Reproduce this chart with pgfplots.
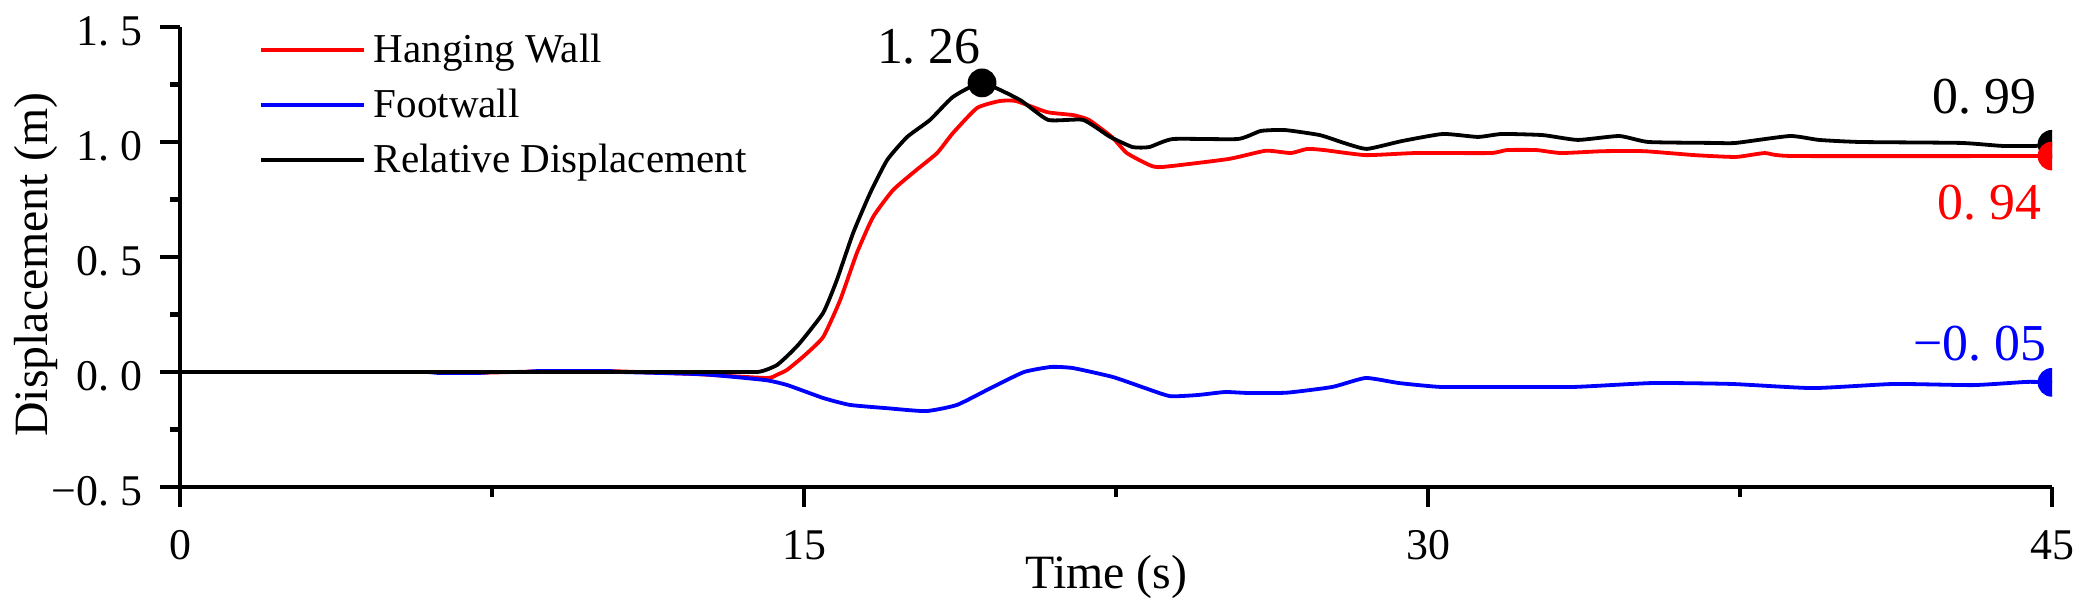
\documentclass[border=0pt]{standalone}
\usepackage{pgfplots}
\pgfplotsset{compat=1.18}
\usepackage{fontspec}
\setmainfont{Liberation Serif}
\newcommand{\dd}{\kern0.25em}
\newcommand{\lstrut}{\rule[-0.22em]{0pt}{0.97em}}
\begin{document}
\begin{tikzpicture}
\begin{axis}[
  scale only axis,
  width=468bp, height=115bp,
  xmin=0, xmax=45, ymin=-0.5, ymax=1.5,
  axis x line=bottom, axis y line=left,
  axis line style={-, line width=1.2bp, black},
  tick align=outside,
  major tick length=5bp, minor tick length=2.5bp,
  tick style={line width=1.1bp, black},
  xtick={0,15,30,45}, xticklabels={0,15,30,45},
  minor xtick={7.5,22.5,37.5},
  ytick={-0.5,0,0.5,1,1.5},
  yticklabels={−0.\dd5,0.\dd0,0.\dd5,1.\dd0,1.\dd5},
  minor ytick={-0.25,0.25,0.75,1.25},
  ticklabel style={font=\fontsize{11}{13}\selectfont, inner sep=0pt},
  xticklabel shift=5.75bp,
  yticklabel shift=4.25bp,
  yticklabel style={yshift=-1bp},
  xlabel={Time (s)},
  ylabel={Displacement (m)},
  label style={font=\fontsize{12}{14}\selectfont},
  xlabel style={at={(rel axis cs:0.495,0)}, anchor=base, yshift=-25.25bp},
  ylabel style={at={(rel axis cs:0,0.483)}, anchor=center, yshift=36bp},
  clip marker paths=true,
  legend style={draw=none, fill=none, at={(0,1)}, anchor=north west,
    xshift=19.75bp, yshift=0.75bp, inner sep=0pt, outer sep=0pt,
    font=\fontsize{10.3}{12}\selectfont, row sep=0.55bp,
    cells={inner sep=0pt, anchor=west},
    /tikz/every even column/.append style={column sep=3.25bp}},
  legend cell align=left,
  legend image code/.code={\draw[#1] (0bp,0bp) -- (25.75bp,0bp);},
]
\addplot[red, line width=0.95bp, smooth, tension=0.3] coordinates {
(0,0) (6,0) (7,-0.004) (8,0) (9,0.004) (10.3,0.004) (11,0) (12.5,-0.01)
(14.1,-0.026) (14.35,-0.012) (14.59,0.009) (15.0,0.07) (15.46,0.152) (15.87,0.313) (16.27,0.517)
(16.66,0.674) (17.14,0.791) (17.7,0.878) (18.2,0.952) (18.58,1.039) (19.16,1.148)
(19.7,1.178) (20.1,1.178) (20.84,1.13) (21.47,1.117) (21.85,1.096) (22.4,1.022)
(22.76,0.952) (23.3,0.9) (23.6,0.891) (25.2,0.926) (26.1,0.962) (26.7,0.952)
(27.1,0.97) (27.5,0.965) (28.5,0.943) (29.7,0.952) (31.5,0.952) (31.9,0.965)
(32.6,0.965) (33.2,0.952) (34.2,0.96) (35.2,0.96) (36.4,0.943) (37.4,0.935)
(38.1,0.952) (38.8,0.939) (45,0.939)
};
\addlegendentry{\lstrut Hanging Wall}
\addplot[blue, line width=0.95bp, smooth, tension=0.3] coordinates {
(0,0) (6,0) (6.2,-0.004) (7.2,-0.004) (7.5,0) (8.3,0) (8.6,0.004) (10.3,0.004)
(10.6,0) (12.57,-0.01) (14.06,-0.035) (14.6,-0.057) (15.46,-0.113) (16.1,-0.143)
(16.97,-0.157) (17.93,-0.17) (18.68,-0.143) (19.54,-0.065) (20.29,0.0) (20.94,0.022)
(21.47,0.017) (22.43,-0.022) (23.2,-0.07) (23.8,-0.105) (24.47,-0.1) (25.12,-0.087)
(25.65,-0.091) (26.6,-0.09) (27.7,-0.065) (28.5,-0.026) (29.3,-0.048) (30.3,-0.065)
(31.6,-0.065) (33.5,-0.065) (35.4,-0.048) (37.3,-0.052) (39.25,-0.07) (41.2,-0.052)
(43.1,-0.057) (44.4,-0.043) (45,-0.045)
};
\addlegendentry{\lstrut Footwall}
\addplot[black, line width=0.95bp, smooth, tension=0.3] coordinates {
(0,0) (6,0) (10,0) (13.0,0) (13.87,0.0) (14.1,0.01) (14.35,0.03) (14.6,0.07) (14.9,0.126) (15.46,0.257)
(15.79,0.40) (16.18,0.604) (16.59,0.778) (17.0,0.922) (17.48,1.022) (18.03,1.096)
(18.58,1.196) (19.28,1.257) (20.19,1.183) (20.87,1.096) (21.71,1.096) (22.36,1.022)
(22.9,0.978) (23.3,0.978) (23.87,1.013) (25.43,1.013) (25.98,1.048) (26.56,1.052)
(27.4,1.03) (27.98,0.996) (28.53,0.97) (29.37,1.004) (30.36,1.035) (31.2,1.022)
(31.78,1.035) (32.76,1.03) (33.6,1.009) (34.6,1.026) (35.3,1.0) (36.85,0.996)
(37.4,0.996) (38.7,1.026) (39.4,1.009) (40.4,1.0) (42.8,0.996) (43.8,0.983)
(44.6,0.983) (45,0.99)
};
\addlegendentry{\lstrut Relative Displacement}
\addplot[only marks, mark=*, black, mark size=3.4bp, forget plot] coordinates {(19.28,1.257) (45,0.99)};
\addplot[only marks, mark=*, red, mark size=3.4bp, forget plot] coordinates {(45,0.939)};
\addplot[only marks, mark=*, blue, mark size=3.4bp, forget plot] coordinates {(45,-0.045)};
\node[inner sep=0pt, font=\fontsize{13}{15}\selectfont, anchor=center] at (axis cs:18.0,1.413) {1.\dd26};
\node[inner sep=0pt, font=\fontsize{13}{15}\selectfont, anchor=east] at (axis cs:44.64,1.196) {0.\dd99};
\node[inner sep=0pt, font=\fontsize{13}{15}\selectfont, anchor=east, text=red] at (axis cs:44.76,0.735) {0.\dd94};
\node[inner sep=0pt, font=\fontsize{13}{15}\selectfont, anchor=east, text=blue] at (axis cs:44.88,0.122) {−0.\dd05};
\end{axis}
\pgfresetboundingbox
\path[use as bounding box] (-45bp,-31.25bp) rectangle (475.25bp,121.75bp);
\end{tikzpicture}
\end{document}
